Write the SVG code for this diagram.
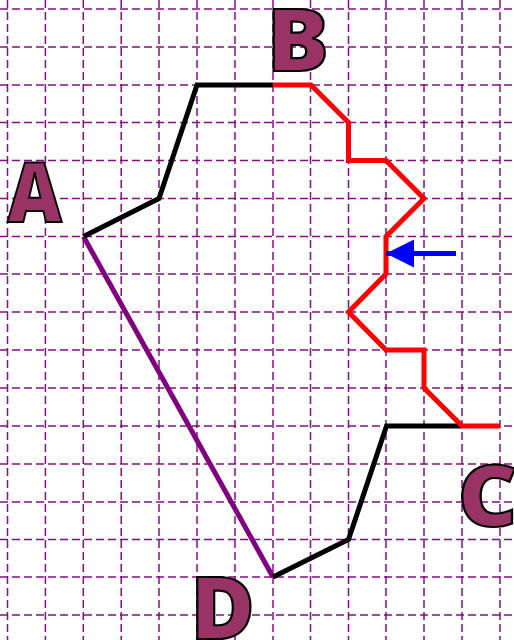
<svg xmlns="http://www.w3.org/2000/svg" width="514" height="640" viewBox="0 0 514 640">
<defs>
<style>
.grid line{stroke:#800080;stroke-width:1.5;stroke-dasharray:8 4;stroke-opacity:.95}
.lbl{font-family:"Noto Sans","Open Sans",sans-serif;font-weight:900;font-size:86px;fill:#993366;stroke:#000;stroke-width:2.2}
.edge{fill:none;stroke-width:5;stroke-linejoin:miter}
</style>
<marker id="ah" markerUnits="userSpaceOnUse" markerWidth="30" markerHeight="30" refX="28" refY="14" orient="auto"><path d="M0 0L28 14L0 28Z" fill="#0000ff"/></marker>
</defs>
<rect width="514" height="640" fill="#fff"/>
<g class="grid" id="grid">
<line x1="7.5" y1="0" x2="7.5" y2="640"/><line x1="45.4" y1="0" x2="45.4" y2="640"/><line x1="83.3" y1="0" x2="83.3" y2="640"/><line x1="121.2" y1="0" x2="121.2" y2="640"/><line x1="159" y1="0" x2="159" y2="640"/><line x1="197" y1="0" x2="197" y2="640"/><line x1="235" y1="0" x2="235" y2="640"/><line x1="273" y1="0" x2="273" y2="640"/><line x1="310.500" y1="0" x2="310.500" y2="640"/><line x1="348.500" y1="0" x2="348.500" y2="640"/><line x1="386" y1="0" x2="386" y2="640"/><line x1="424" y1="0" x2="424" y2="640"/><line x1="462" y1="0" x2="462" y2="640"/><line x1="500" y1="0" x2="500" y2="640"/>
<line x1="0" y1="9" x2="514" y2="9"/><line x1="0" y1="47" x2="514" y2="47"/><line x1="0" y1="85" x2="514" y2="85"/><line x1="0" y1="122.500" x2="514" y2="122.500"/><line x1="0" y1="160.500" x2="514" y2="160.500"/><line x1="0" y1="198.500" x2="514" y2="198.500"/><line x1="0" y1="236.500" x2="514" y2="236.500"/><line x1="0" y1="274" x2="514" y2="274"/><line x1="0" y1="312" x2="514" y2="312"/><line x1="0" y1="350" x2="514" y2="350"/><line x1="0" y1="388" x2="514" y2="388"/><line x1="0" y1="426" x2="514" y2="426"/><line x1="0" y1="464" x2="514" y2="464"/><line x1="0" y1="502" x2="514" y2="502"/><line x1="0" y1="539.500" x2="514" y2="539.500"/><line x1="0" y1="577" x2="514" y2="577"/><line x1="0" y1="615" x2="514" y2="615"/>
</g>
<g id="connectors">
<path class="edge" stroke="#800080" d="M83.500 236.500L273 577"/>
<path class="edge" stroke="#000" d="M83.500 236.500L159 198.500L197 85L273 85"/>
<path class="edge" stroke="#000" d="M273 577L348.500 539.500L386.500 426L462 426"/>
<path class="edge" stroke="#ff0000" d="M273 85L311 85L348.500 122.500L348.500 160.500L386 160.500L424 198.500L386 236.500L386 274L348.500 312L386 350L424 350L424 388L462 426L500 426"/>
<path fill="none" stroke="#0000ff" stroke-width="5" d="M456 253.500L386 253.500" marker-end="url(#ah)"/>
</g>
<g id="node-a"><text class="lbl" transform="translate(7.500 222) scale(.87 .96)">A</text></g>
<g id="node-b"><text class="lbl" transform="translate(266.500 71) scale(1.08 1)">B</text></g>
<g id="node-c"><text class="lbl" transform="translate(457.500 526) scale(1.08 .98)">C</text></g>
<g id="node-d"><text class="lbl" transform="translate(190.500 639) scale(1.02 1)">D</text></g>
</svg>
